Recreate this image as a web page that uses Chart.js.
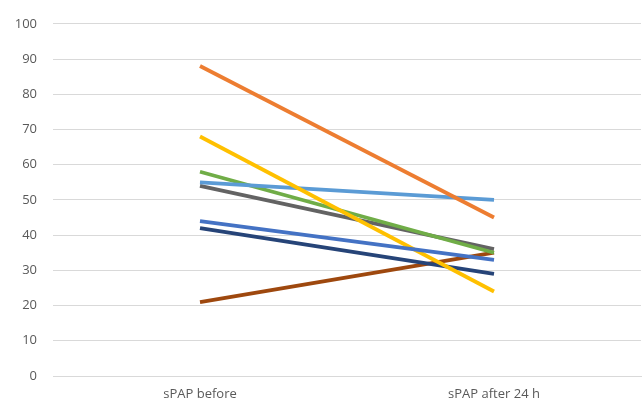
<!DOCTYPE html>
<html>
<head>
<meta charset="utf-8">
<script src="https://cdn.jsdelivr.net/npm/chart.js@4/dist/chart.umd.min.js"></script>
<style>
  html, body { margin: 0; padding: 0; background: #fff; }
  #wrap { width: 642px; height: 403px; }
</style>
</head>
<body>
<div id="wrap"><canvas id="mychart"></canvas></div>
<script>
// categories and per-patient sPAP values
const labels = ['sPAP before', 'sPAP after 24 h'];
const patient1 = [44, 33];
const patient2 = [88, 45];
const patient3 = [68, 24];
const patient4 = [55, 50];
const patient5 = [58, 35];
const patient6 = [42, 29];
const patient7 = [21, 35];
const patient8 = [54, 36];
const yTicks = [0, 10, 20, 30, 40, 50, 60, 70, 80, 90, 100];

const series = [
    { data: patient1, color: '#4472C4' },
    { data: patient2, color: '#ED7D31' },
    { data: patient3, color: '#FFC000' },
    { data: patient4, color: '#5B9BD5' },
    { data: patient5, color: '#70AD47' },
    { data: patient6, color: '#264478' },
    { data: patient7, color: '#9E480E' },
    { data: patient8, color: '#636363' }
];

const ctx = document.getElementById('mychart').getContext('2d');
const myChart = new Chart(ctx, {
    type: 'line',
    data: {
        labels: labels,
        datasets: series.map((s, i) => ({
            label: 'Patient ' + (i + 1),
            data: s.data,
            borderColor: s.color,
            backgroundColor: s.color,
            borderWidth: 3.8,
            pointRadius: 0,
            tension: 0,
            fill: false
        }))
    },
    options: {
        responsive: true,
        maintainAspectRatio: false,
        animation: false,
        layout: { padding: { top: 15, right: 1, bottom: 0, left: 0 } },
        plugins: {
            legend: { display: false },
            tooltip: { enabled: false }
        },
        scales: {
            x: {
                offset: true,
                grid: { display: false, drawTicks: false },
                border: { display: true, color: '#d9d9d9', width: 1 },
                ticks: {
                    color: '#595959',
                    padding: 10,
                    font: { family: 'Open Sans', size: 13 }
                },
                afterFit: scale => { scale.height = 27; }
            },
            y: {
                min: 0,
                max: 100,
                afterBuildTicks: scale => { scale.ticks = yTicks.map(v => ({ value: v })); },
                grid: { color: '#d9d9d9', drawTicks: false },
                border: { display: false },
                ticks: {
                    color: '#595959',
                    padding: 16,
                    font: { family: 'Open Sans', size: 13 }
                },
                afterFit: scale => { scale.width = 53; }
            }
        }
    }
});
</script>
</body>
</html>
